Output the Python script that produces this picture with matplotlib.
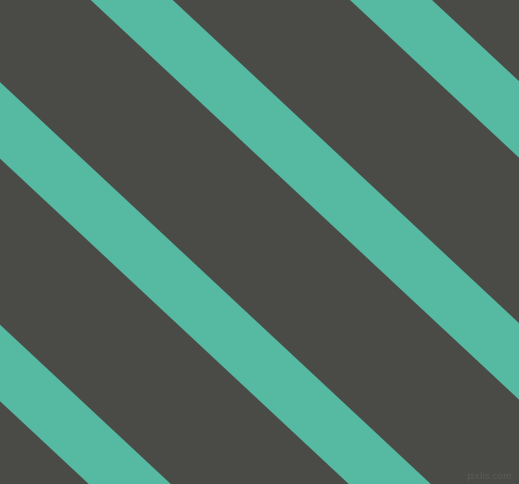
import matplotlib.pyplot as plt
import numpy as np

# stripes: x where each stripe's left edge meets the top border (px)
stripe_x0 = [-430.0, -170.0, 90.7, 350.0]
stripe_w = 82.0        # horizontal width of a stripe
slope = 0.933          # dy/dx, stripes run down to the right

bg = '#4a4b46'
teal = '#56baa3'

W, H = 519, 484
fig = plt.figure(figsize=(W / 100, H / 100), dpi=100)
ax = fig.add_axes([0, 0, 1, 1])
ax.set_xlim(0, W)
ax.set_ylim(H, 0)
ax.set_facecolor(bg)
fig.patch.set_facecolor(bg)
ax.axis('off')

ys = np.array([-20, H + 20])
for x0 in stripe_x0:
    xl = x0 + ys / slope
    xr = xl + stripe_w
    ax.fill([xl[0], xr[0], xr[1], xl[1]], [ys[0], ys[0], ys[1], ys[1]],
            color=teal, lw=0)

ax.text(W - 7, H - 3, 'pixlis.com', ha='right', va='bottom',
        fontsize=6.5, color='#5b5c57', family='DejaVu Sans')

fig.savefig('out.png', dpi=100, facecolor=bg)
